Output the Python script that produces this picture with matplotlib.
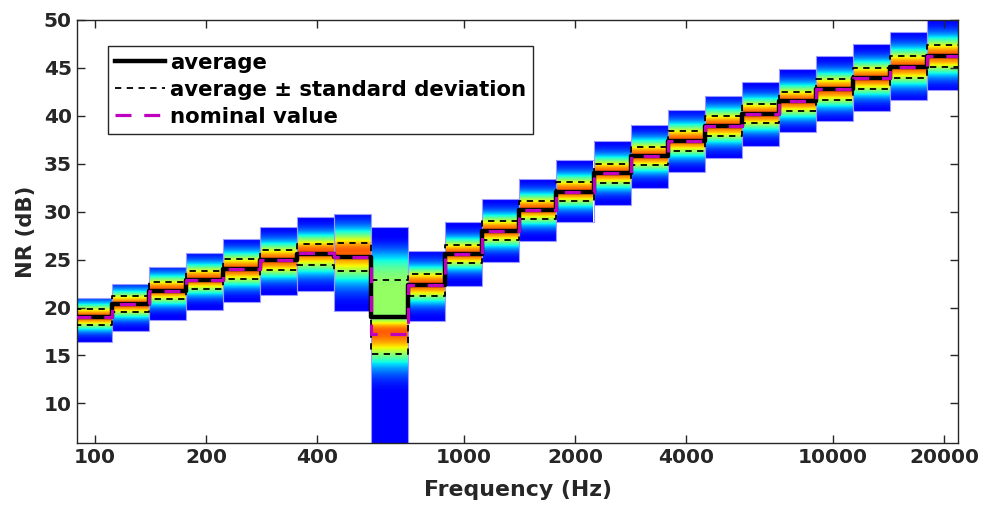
import numpy as np
import matplotlib.pyplot as plt
from matplotlib.patches import Rectangle

# third-octave bands (nominal centre frequencies)
freq = [100, 125, 160, 200, 250, 315, 400, 500, 630, 800, 1000, 1250, 1600,
        2000, 2500, 3150, 4000, 5000, 6300, 8000, 10000, 12500, 16000, 20000]

# NR per band (dB)
nr_avg = [19.0, 20.35, 21.75, 22.9, 24.0, 24.95, 25.55, 25.25, 19.05, 22.35, 25.55, 28.0,
          30.2, 32.1, 34.0, 35.8, 37.4, 38.95, 40.2, 41.5, 42.75, 43.9, 45.1, 46.25]
nr_std = [0.8, 0.82, 0.9, 0.92, 1.02, 1.07, 1.12, 1.45, 3.85, 1.1, 0.95, 0.98,
          0.95, 0.98, 0.98, 0.98, 1.02, 1.05, 1.0, 1.02, 1.05, 1.05, 1.12, 1.15]
nr_nominal = [19.0, 20.35, 21.75, 22.9, 24.0, 24.95, 25.65, 25.25, 17.2, 22.35, 25.55, 28.0,
              30.2, 32.1, 34.0, 35.8, 37.4, 38.9, 40.2, 41.5, 42.75, 43.9, 45.1, 46.25]

# range of the distribution (coloured boxes)
nr_min = [16.4, 17.6, 18.65, 19.7, 20.6, 21.35, 21.7, 19.6, 3.0, 18.55, 22.2, 24.75,
          26.9, 28.9, 30.65, 32.45, 34.1, 35.6, 36.9, 38.3, 39.5, 40.5, 41.65, 42.7]
nr_max = [21.0, 22.5, 24.2, 25.7, 27.15, 28.4, 29.4, 29.8, 28.4, 25.9, 28.9, 31.3,
          33.4, 35.4, 37.35, 39.05, 40.6, 42.1, 43.5, 44.9, 46.2, 47.5, 48.7, 50.5]

# where the density peaks and how fast it falls off above / below
nr_peak = [19.0, 20.35, 21.75, 22.9, 24.0, 24.95, 25.8, 25.8, 17.5, 22.35, 25.55, 28.0,
           30.2, 32.1, 34.0, 35.8, 37.4, 38.95, 40.2, 41.5, 42.75, 43.9, 45.1, 46.25]
spread_up = [0.92, 0.94, 1.03, 1.06, 1.17, 1.23, 1.2, 1.5, 1.2, 1.26, 1.09, 1.13,
             1.09, 1.13, 1.13, 1.13, 1.17, 1.2, 1.15, 1.17, 1.2, 1.2, 1.29, 1.32]
spread_dn = [0.92, 0.94, 1.03, 1.06, 1.17, 1.23, 1.5, 2.1, 2.3, 1.26, 1.09, 1.13,
             1.09, 1.13, 1.13, 1.13, 1.17, 1.2, 1.15, 1.17, 1.2, 1.2, 1.29, 1.32]
# flat shoulder of the 630 Hz band
shelf_level = [0] * 8 + [0.42] + [0] * 15
shelf_centre = [0] * 8 + [21.0] + [0] * 15
shelf_width = [1] * 8 + [4.0] + [1] * 15

xticks = [100, 200, 400, 1000, 2000, 4000, 10000, 20000]
yticks = [10, 15, 20, 25, 30, 35, 40, 45, 50]

# exact band centres and edges
k = np.arange(len(freq)) - 10
fc = 1000 * 2.0 ** (k / 3)
edges = np.append(fc * 2 ** (-1 / 6), fc[-1] * 2 ** (1 / 6))

plt.rcParams['font.family'] = 'DejaVu Sans'
plt.rcParams['font.weight'] = 'bold'

fig = plt.figure(figsize=(9.86, 5.11), dpi=100)
ax = fig.add_axes([0.0778, 0.1337, 0.8941, 0.8272])
ax.set_xscale('log')

cmap = plt.get_cmap('jet')
for i in range(len(freq)):
    y = np.linspace(nr_min[i], nr_max[i], 400)
    s = np.where(y > nr_peak[i], spread_up[i], spread_dn[i])
    c = 0.70 * np.exp(-0.5 * ((y - nr_peak[i]) / s) ** 2)
    c2 = shelf_level[i] * np.exp(-0.5 * ((y - shelf_centre[i]) / shelf_width[i]) ** 4)
    c = 0.11 + np.maximum(c, c2)
    ax.imshow(np.column_stack([c, c]), cmap=cmap, vmin=0, vmax=1, origin='lower',
              extent=(edges[i], edges[i + 1], nr_min[i], nr_max[i]),
              aspect='auto', interpolation='bilinear', zorder=1)
    ax.add_patch(Rectangle((edges[i], nr_min[i]), edges[i + 1] - edges[i],
                           nr_max[i] - nr_min[i], fill=False,
                           edgecolor=(0.6, 0.6, 1.0), lw=0.8, zorder=1.5))

avg = np.array(nr_avg)
std = np.array(nr_std)
ext = lambda v: np.append(v, v[-1])

ax.step(edges, ext(avg + std), where='post', color='black', lw=1.3,
        ls=(0, (3.5, 3)), zorder=3, label='average \u00b1 standard deviation')
ax.step(edges, ext(avg - std), where='post', color='black', lw=1.3,
        ls=(0, (3.5, 3)), zorder=3)
ax.step(edges, ext(avg), where='post', color='black', lw=3.2, zorder=4,
        label='average')
ax.step(edges, ext(np.array(nr_nominal)), where='post', color='#c000c0', lw=2.3,
        ls=(0, (5, 4)), zorder=5, label='nominal value')

ax.set_xlim(89.3, 21860)
ax.set_ylim(5.9, 50)
ax.set_xticks(xticks)
ax.set_xticklabels([str(t) for t in xticks])
ax.xaxis.set_minor_locator(plt.NullLocator())
ax.set_yticks(yticks)

ax.tick_params(direction='in', length=6, width=1, top=True, right=True,
               labelsize=14.5, colors='#262626')
for sp in ax.spines.values():
    sp.set_color('#262626')
    sp.set_linewidth(1)

ax.set_xlabel('Frequency (Hz)', fontsize=15.8, fontweight='bold', color='#262626',
              labelpad=10)
ax.set_ylabel('NR (dB)', fontsize=15.2, fontweight='bold', color='#262626',
              labelpad=6)

h, l = ax.get_legend_handles_labels()
order = [1, 0, 2]
leg = ax.legend([h[j] for j in order], [l[j] for j in order], loc='upper left',
                bbox_to_anchor=(0.0358, 0.9385), borderaxespad=0, fancybox=False,
                framealpha=1, edgecolor='#262626', prop={'size': 15.3, 'weight': 'bold'},
                handlelength=2.35, handletextpad=0.25, labelspacing=0.33,
                borderpad=0.32)
leg.get_frame().set_linewidth(1)
leg.set_zorder(10)

fig.savefig('out.png', dpi=100)
